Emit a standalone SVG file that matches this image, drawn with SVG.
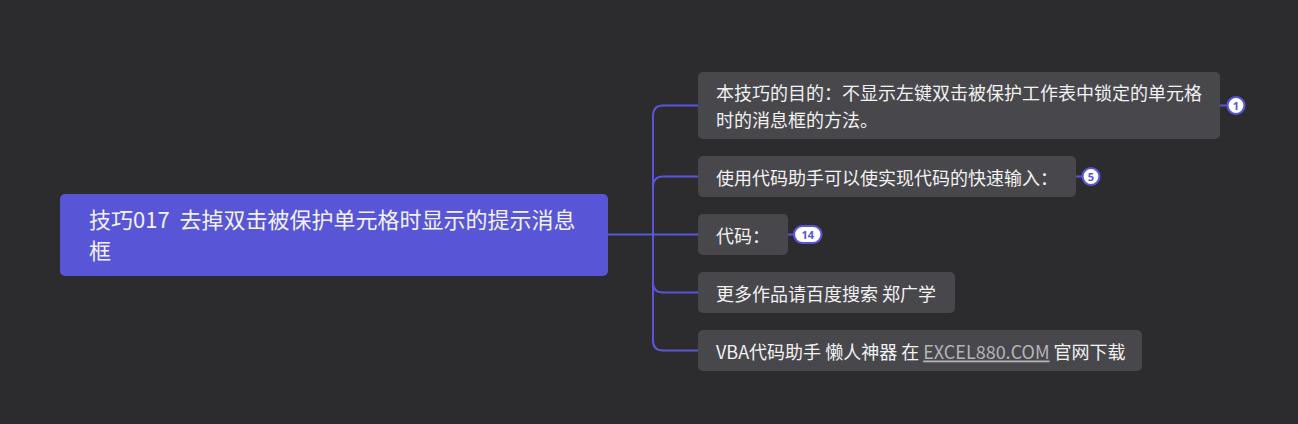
<svg xmlns="http://www.w3.org/2000/svg" width="1298" height="424" viewBox="0 0 1298 424">
<style>
.bg{fill:#2c2c2e}
.root{fill:#5856d6}
.node{fill:#48474c}
.t{font-family:"Noto Sans CJK SC","Noto Sans",sans-serif;fill:#f2f2f2;dominant-baseline:central;white-space:pre}
.rt{font-size:22px}
.ct{font-size:18px}
.link{fill:#b4b4b8;text-decoration:underline}
.conn{fill:none;stroke:#5856d6;stroke-width:2}
.badge{fill:#ffffff;stroke:#5856d6;stroke-width:2.2}
.bt{font-family:"Noto Sans","DejaVu Sans",sans-serif;font-size:11px;font-weight:bold;fill:#5856d6;text-anchor:middle;dominant-baseline:central}
</style>
<rect class="bg" x="0" y="0" width="1298" height="424"/>
<g id="connectors">
<path class="conn" d="M608,234.5 H698"/>
<path class="conn" d="M653,234.5 V116 Q653,105.5 663,105.5 H698"/>
<path class="conn" d="M653,234.5 V187 Q653,176.5 663,176.5 H698"/>
<path class="conn" d="M653,234.5 V282.5 Q653,292.5 663,292.5 H698"/>
<path class="conn" d="M653,234.5 V340.5 Q653,350.5 663,350.5 H698"/>
<path class="conn" d="M1220,105.5 H1228"/>
<path class="conn" d="M1076,176.5 H1083"/>
<path class="conn" d="M788,234.5 H794"/>
</g>
<g id="root">
<rect class="root" x="60" y="194" width="548" height="82" rx="5"/>
<text class="t rt" x="89" y="218" xml:space="preserve">技巧017  去掉双击被保护单元格时显示的提示消息</text>
<text class="t rt" x="89" y="249">框</text>
</g>
<g id="n1">
<rect class="node" x="698" y="72" width="522" height="67" rx="5"/>
<text class="t ct" x="716" y="92">本技巧的目的：不显示左键双击被保护工作表中锁定的单元格</text>
<text class="t ct" x="716" y="119">时的消息框的方法。</text>
</g>
<g id="b1">
<circle class="badge" cx="1236" cy="105.5" r="8.5"/>
<text class="bt" x="1236" y="105.5">1</text>
</g>
<g id="n2">
<rect class="node" x="698" y="156" width="378" height="41" rx="5"/>
<text class="t ct" x="716" y="176.5">使用代码助手可以使实现代码的快速输入：</text>
</g>
<g id="b5">
<circle class="badge" cx="1091" cy="176.5" r="8.5"/>
<text class="bt" x="1091" y="176.5">5</text>
</g>
<g id="n3">
<rect class="node" x="698" y="214" width="90" height="41" rx="5"/>
<text class="t ct" x="716" y="234.5">代码：</text>
</g>
<g id="b14">
<rect class="badge" x="794" y="226" width="27.5" height="17" rx="8.5"/>
<text class="bt" x="807.75" y="234.5">14</text>
</g>
<g id="n4">
<rect class="node" x="698" y="272" width="257" height="41" rx="5"/>
<text class="t ct" x="716" y="292.5">更多作品请百度搜索 郑广学</text>
</g>
<g id="n5">
<rect class="node" x="698" y="330" width="444" height="41" rx="5"/>
<text class="t ct" x="716" y="350.5">VBA代码助手 懒人神器 在 <tspan class="link">EXCEL880.COM</tspan> 官网下载</text>
</g>
</svg>
